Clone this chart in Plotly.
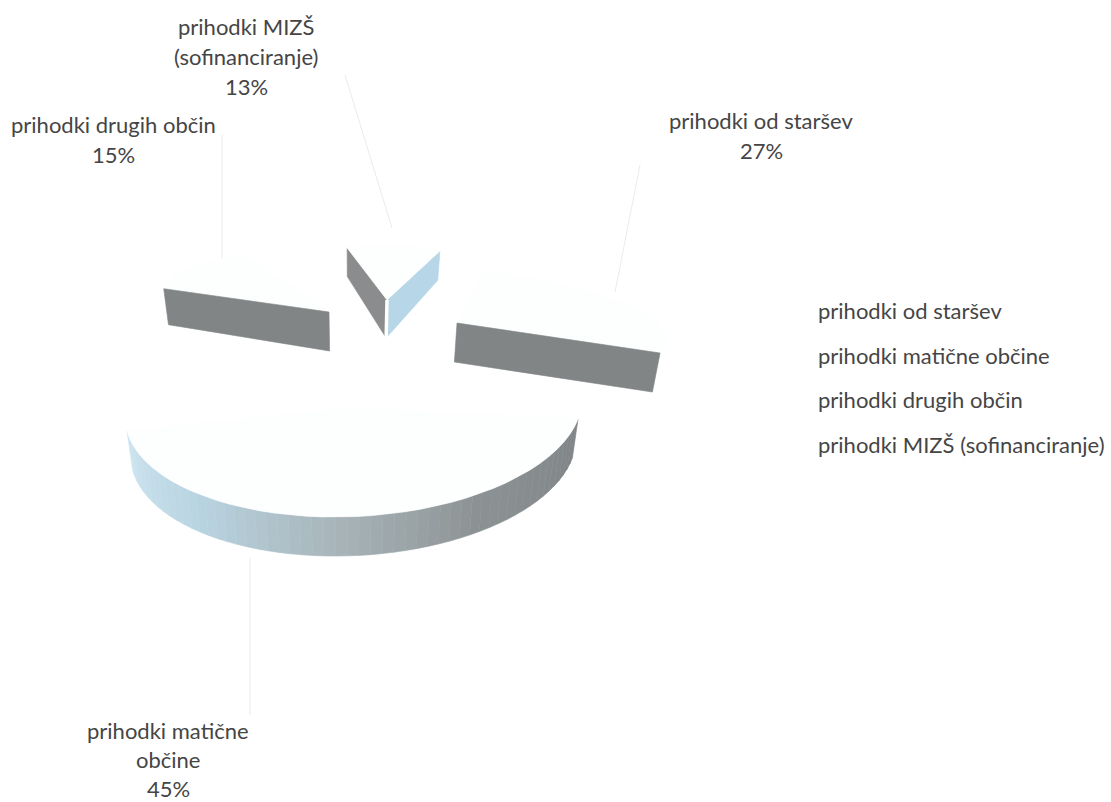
import numpy as np
import plotly.graph_objects as go

# ---- data ----
categories = ["prihodki od staršev", "prihodki matične občine", "prihodki drugih občin", "prihodki MIZŠ (sofinanciranje)"]
shares = [27, 45, 15, 13]
label_lines = [["prihodki od staršev", "27%"],
               ["prihodki matične", "občine", "45%"],
               ["prihodki drugih občin", "15%"],
               ["prihodki MIZŠ", "(sofinanciranje)", "13%"]]

# ---- view of the exploded 3-D pie (canvas pixels) ----
FIRST_ANGLE = 10.0
FONT = "Lato"
TEXT = "#454545"
VIEWS = [
    dict(apex=(457, 323), u=(209.5, 14.4), v=(-10, -55)),
    dict(apex=(353.5, 408), u=(226.9, -21.5), v=(-26.3, -106.9)),
    dict(apex=(329, 312), u=(165, 24), v=(20, -52)),
    dict(apex=(387, 300), u=(112, 16.5), v=(34, -52.7)),
]
ARC_STOPS = [(0.0, (128, 132, 134)), (0.28, (140, 146, 148)), (0.52, (168, 181, 186)),
             (0.75, (184, 211, 224)), (1.0, (205, 228, 240))]
DARK_WALL = "#818586"
DARK_WALL_2 = "#8a8c8d"
BLUE_WALL = "#b7d6e7"
TOP_FACE = "#fdfefe"
LEADER = "#ebebeb"

edges = FIRST_ANGLE + np.concatenate([[0], np.cumsum(shares)]) * 360.0 / sum(shares)


def pt(view, deg):
    t = np.radians(deg)
    return (view["apex"][0] + np.sin(t) * view["u"][0] + np.cos(t) * view["v"][0],
            view["apex"][1] + np.sin(t) * view["u"][1] + np.cos(t) * view["v"][1])


def drop(p):
    h = min(39.0, 29.0 + (p[1] - 250.0) * 0.18)
    return (p[0] + (353.0 - p[0]) * 0.025, p[1] + h)


def mix(f):
    for (a, ca), (b, cb) in zip(ARC_STOPS, ARC_STOPS[1:]):
        if f <= b:
            k = (f - a) / (b - a)
            c = [round(x + (y - x) * k) for x, y in zip(ca, cb)]
            return f"rgb({c[0]},{c[1]},{c[2]})"
    return "rgb(205,228,240)"


fig = go.Figure()


def poly(points, color, width=0.6):
    xs = [p[0] for p in points] + [points[0][0]]
    ys = [p[1] for p in points] + [points[0][1]]
    fig.add_trace(go.Scatter(x=xs, y=ys, mode="lines", fill="toself", fillcolor=color,
                             line=dict(color=color, width=width), hoverinfo="skip", showlegend=False))


def top_face(i):
    ang = np.linspace(edges[i], edges[i + 1], 40)
    poly([VIEWS[i]["apex"]] + [pt(VIEWS[i], a) for a in ang], TOP_FACE)


def radial_wall(i, deg, color):
    a = VIEWS[i]["apex"]
    b = pt(VIEWS[i], deg)
    poly([a, b, drop(b), drop(a)], color)


# far slices first
radial_wall(3, edges[3], DARK_WALL_2)
radial_wall(3, edges[4], BLUE_WALL)
top_face(3)
a = VIEWS[3]["apex"]
fig.add_trace(go.Scatter(x=[a[0], drop(a)[0]], y=[a[1], drop(a)[1]], mode="lines",
                         line=dict(color="white", width=3.5), hoverinfo="skip", showlegend=False))

top_face(2)
radial_wall(2, edges[2], DARK_WALL)
top_face(0)
radial_wall(0, edges[1], DARK_WALL)

# outer wall of the largest slice, shaded along the arc
steps = np.linspace(edges[1], edges[2], 55)
for k, (d0, d1) in enumerate(zip(steps[:-1], steps[1:])):
    p0, p1 = pt(VIEWS[1], d0), pt(VIEWS[1], d1)
    poly([p0, p1, drop(p1), drop(p0)], mix(k / (len(steps) - 2)))
top_face(1)

annotations = []
LABEL_POS = [(761, 120, 30), (168, 730, 29), (113, 124, 30), (246, 26, 30)]
for lines, (cx, y0, step) in zip(label_lines, LABEL_POS):
    for j, s in enumerate(lines):
        annotations.append(dict(x=cx, y=y0 + j * step, text=s, showarrow=False,
                                xanchor="center", yanchor="middle",
                                font=dict(family=FONT, size=22, color=TEXT)))
LEGEND_X = 816
LEGEND_Y = [310, 355, 399, 444]
for name, y in zip(categories, LEGEND_Y):
    annotations.append(dict(x=LEGEND_X, y=y, text=name, showarrow=False, xanchor="left", yanchor="middle",
                            font=dict(family=FONT, size=22, color=TEXT)))

leaders = [((640, 165), (615, 292)), ((250, 558), (250, 715)), ((222, 135), (222, 258)), ((345, 75), (392, 228))]
shapes = [dict(type="line", xref="x", yref="y", x0=p[0], y0=p[1], x1=q[0], y1=q[1],
               line=dict(color=LEADER, width=1), layer="below") for p, q in leaders]

fig.update_layout(
    width=1111, height=802, margin=dict(l=0, r=0, t=0, b=0), autosize=False,
    paper_bgcolor="white", plot_bgcolor="white", showlegend=False,
    xaxis=dict(range=[0, 1111], visible=False, fixedrange=True),
    yaxis=dict(range=[802, 0], visible=False, fixedrange=True),
    annotations=annotations, shapes=shapes,
)
fig.write_html("out.html", config=dict(displayModeBar=False),
               post_script="document.body.style.margin='0';document.documentElement.style.overflow='hidden';")
